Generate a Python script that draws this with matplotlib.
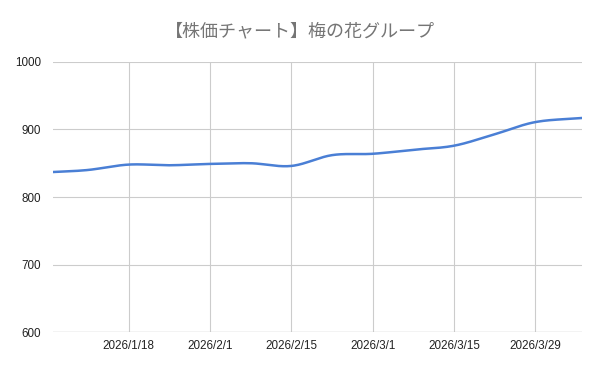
import matplotlib
matplotlib.use("Agg")
import matplotlib.pyplot as plt
import matplotlib.dates as mdates
import numpy as np
import datetime as dt

# weekly closing prices
dates = ["2026-01-05", "2026-01-11", "2026-01-18", "2026-01-25", "2026-02-01",
         "2026-02-08", "2026-02-15", "2026-02-22", "2026-03-01", "2026-03-08",
         "2026-03-15", "2026-03-22", "2026-03-29", "2026-04-06"]
prices = [837, 840, 848, 847, 849, 850, 846, 862, 864, 870, 876, 893, 911, 917]
tick_dates = ["2026-01-18", "2026-02-01", "2026-02-15", "2026-03-01", "2026-03-15", "2026-03-29"]
tick_labels = ["2026/1/18", "2026/2/1", "2026/2/15", "2026/3/1", "2026/3/15", "2026/3/29"]
title = "【株価チャート】梅の花グループ"

plt.rcParams["font.family"] = ["Liberation Sans", "DejaVu Sans"]

x = mdates.date2num([dt.date.fromisoformat(d) for d in dates])
y = np.array(prices, dtype=float)


# smooth curve through the points (Catmull-Rom), like the sheet's smoothed line
def smooth(px, py, n=30):
    px = np.concatenate([[2 * px[0] - px[1]], px, [2 * px[-1] - px[-2]]])
    py = np.concatenate([[2 * py[0] - py[1]], py, [2 * py[-1] - py[-2]]])
    xs, ys = [], []
    t = np.linspace(0, 1, n)
    for i in range(1, len(px) - 2):
        for arr, out in ((px, xs), (py, ys)):
            p0, p1, p2, p3 = arr[i - 1], arr[i], arr[i + 1], arr[i + 2]
            out.append(0.5 * (2 * p1 + (-p0 + p2) * t + (2 * p0 - 5 * p1 + 4 * p2 - p3) * t ** 2
                              + (-p0 + 3 * p1 - 3 * p2 + p3) * t ** 3))
    return np.concatenate(xs), np.concatenate(ys)


sx, sy = smooth(x, y)

fig = plt.figure(figsize=(6, 3.71), dpi=100)
ax = fig.add_axes([0.0883, 0.105, 0.8817, 0.728])
ax.plot(sx, sy, color="#4a7fd5", linewidth=1.8, solid_capstyle="round")

ax.set_xlim(x[0], x[-1])
ax.set_ylim(600, 1000)
ax.set_yticks([600, 700, 800, 900, 1000])
ax.set_xticks(mdates.date2num([dt.date.fromisoformat(d) for d in tick_dates]))
ax.set_xticklabels(tick_labels)
ax.tick_params(axis="both", length=0, labelsize=8.4, colors="#222222")
ax.tick_params(axis="y", pad=8.5)
ax.tick_params(axis="x", pad=6)
ax.grid(True, color="#cccccc", linewidth=0.8)
for s in ax.spines.values():
    s.set_visible(False)
ax.axhline(600, color="#bbbbbb", linewidth=0.9)

fig.text(0.5, 0.915, title, ha="center", va="center", fontsize=13, color="#757575",
         family=["Noto Sans CJK JP", "DejaVu Sans"])

fig.savefig("out.png", dpi=100)
